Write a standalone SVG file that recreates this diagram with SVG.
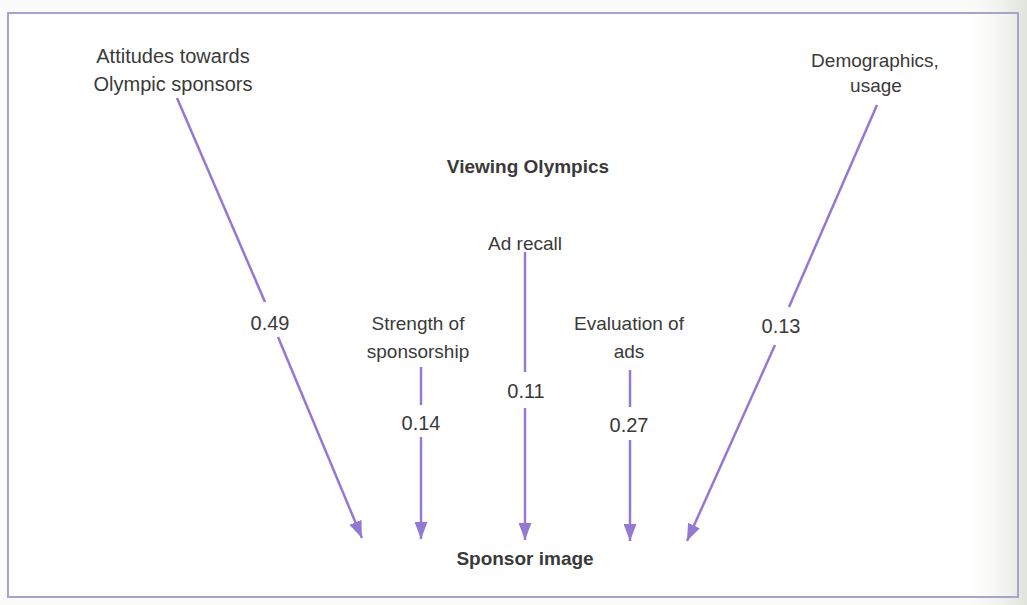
<svg xmlns="http://www.w3.org/2000/svg" width="1027" height="605" viewBox="0 0 1027 605">
  <style>
    .lbl { font-family: "Liberation Sans", Arial, sans-serif; font-size: 19px; fill: #3a3a3a; text-anchor: middle; }
    .top { font-size: 20px; }
    .bold { font-weight: bold; font-size: 19px; }
    .num { font-size: 20px; }
    .conn { stroke: #9479d3; stroke-width: 2.5; fill: none; }
    .frame { fill: #ffffff; stroke: #a8a3c8; stroke-width: 2; }
  </style>
  <defs>
    <marker id="ah" markerUnits="userSpaceOnUse" markerWidth="18" markerHeight="13" refX="17" refY="6.5" orient="auto">
      <path d="M0,0 L17,6.5 L0,13 z" fill="#9479d3"/>
    </marker>
    <linearGradient id="edge" x1="0" y1="0" x2="1" y2="0">
      <stop offset="0" stop-color="#ffffff" stop-opacity="0"/>
      <stop offset="1" stop-color="#dfe3da" stop-opacity="1"/>
    </linearGradient>
  </defs>

  <rect x="0" y="0" width="1027" height="605" fill="#fbfbfb"/>
  <rect x="950" y="0" width="77" height="605" fill="url(#edge)"/>
  <rect class="frame" x="8" y="13" width="1010" height="584"/>
  <rect x="960" y="14" width="57" height="582" fill="url(#edge)" opacity="0.7"/>

  <g id="connectors">
    <path class="conn" d="M177,98 L265,302"/>
    <path class="conn" d="M278,337 L362,538" marker-end="url(#ah)"/>
    <path class="conn" d="M421,367 L421,405"/>
    <path class="conn" d="M421,437 L421,539" marker-end="url(#ah)"/>
    <path class="conn" d="M525,252 L525,372"/>
    <path class="conn" d="M525,408 L525,540" marker-end="url(#ah)"/>
    <path class="conn" d="M630,370 L630,407"/>
    <path class="conn" d="M630,440 L630,541" marker-end="url(#ah)"/>
    <path class="conn" d="M877,105 L789,307"/>
    <path class="conn" d="M775,345 L687,541" marker-end="url(#ah)"/>
  </g>

  <g id="node-attitudes">
    <text class="lbl top" x="173" y="63">Attitudes towards</text>
    <text class="lbl top" x="173" y="91">Olympic sponsors</text>
  </g>
  <g id="node-demographics">
    <text class="lbl" x="875" y="67">Demographics,</text>
    <text class="lbl" x="876" y="92">usage</text>
  </g>
  <g id="node-viewing">
    <text class="lbl bold" x="528" y="173">Viewing Olympics</text>
  </g>
  <g id="node-adrecall">
    <text class="lbl" x="525" y="250">Ad recall</text>
  </g>
  <g id="node-strength">
    <text class="lbl" x="418" y="330">Strength of</text>
    <text class="lbl" x="418" y="358">sponsorship</text>
  </g>
  <g id="node-evaluation">
    <text class="lbl" x="629" y="330">Evaluation of</text>
    <text class="lbl" x="629" y="358">ads</text>
  </g>
  <g id="node-sponsor">
    <text class="lbl bold" x="525" y="565">Sponsor image</text>
  </g>
  <g id="labels">
    <text class="lbl num" x="270" y="330">0.49</text>
    <text class="lbl num" x="421" y="430">0.14</text>
    <text class="lbl num" x="526" y="398">0.11</text>
    <text class="lbl num" x="629" y="432">0.27</text>
    <text class="lbl num" x="781" y="333">0.13</text>
  </g>
</svg>
